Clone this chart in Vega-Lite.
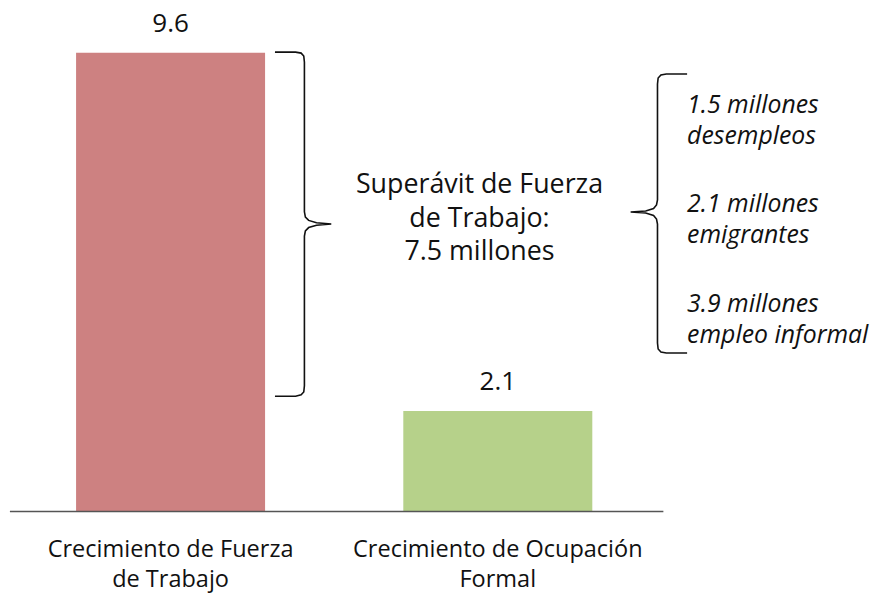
{
  "$schema": "https://vega.github.io/schema/vega-lite/v6.json",
  "width": 876,
  "height": 595,
  "autosize": {"type": "none"},
  "padding": 0,
  "background": "white",
  "config": {"view": {"stroke": null}, "font": "Open Sans"},
  "datasets": {
    "bars": [
      {"cat": "Fuerza", "pos": 1, "value": 9.6, "label": "Crecimiento de Fuerza\nde Trabajo"},
      {"cat": "Ocupacion", "pos": 2, "value": 2.1, "label": "Crecimiento de Ocupación\nFormal"}
    ],
    "braces": [
      {"b": "a", "i": 1, "u": 1.319, "v": 9.61},
      {"b": "a", "i": 2, "u": 1.382, "v": 9.61},
      {"b": "a", "i": 3, "u": 1.399, "v": 9.59},
      {"b": "a", "i": 4, "u": 1.407, "v": 9.53},
      {"b": "a", "i": 5, "u": 1.409, "v": 9.40},
      {"b": "a", "i": 6, "u": 1.409, "v": 6.27},
      {"b": "a", "i": 7, "u": 1.412, "v": 6.16},
      {"b": "a", "i": 8, "u": 1.422, "v": 6.09},
      {"b": "a", "i": 9, "u": 1.446, "v": 6.04},
      {"b": "a", "i": 10, "u": 1.491, "v": 6.015},
      {"b": "a", "i": 11, "u": 1.446, "v": 5.99},
      {"b": "a", "i": 12, "u": 1.422, "v": 5.94},
      {"b": "a", "i": 13, "u": 1.412, "v": 5.87},
      {"b": "a", "i": 14, "u": 1.409, "v": 5.76},
      {"b": "a", "i": 15, "u": 1.409, "v": 2.63},
      {"b": "a", "i": 16, "u": 1.407, "v": 2.50},
      {"b": "a", "i": 17, "u": 1.399, "v": 2.44},
      {"b": "a", "i": 18, "u": 1.382, "v": 2.41},
      {"b": "a", "i": 19, "u": 1.319, "v": 2.41},
      {"b": "b", "i": 1, "u": 2.5785, "v": 9.153},
      {"b": "b", "i": 2, "u": 2.515, "v": 9.153},
      {"b": "b", "i": 3, "u": 2.4985, "v": 9.132},
      {"b": "b", "i": 4, "u": 2.490, "v": 9.069},
      {"b": "b", "i": 5, "u": 2.488, "v": 8.943},
      {"b": "b", "i": 6, "u": 2.488, "v": 6.517},
      {"b": "b", "i": 7, "u": 2.485, "v": 6.412},
      {"b": "b", "i": 8, "u": 2.476, "v": 6.339},
      {"b": "b", "i": 9, "u": 2.452, "v": 6.287},
      {"b": "b", "i": 10, "u": 2.406, "v": 6.266},
      {"b": "b", "i": 11, "u": 2.452, "v": 6.245},
      {"b": "b", "i": 12, "u": 2.476, "v": 6.192},
      {"b": "b", "i": 13, "u": 2.485, "v": 6.119},
      {"b": "b", "i": 14, "u": 2.488, "v": 6.015},
      {"b": "b", "i": 15, "u": 2.488, "v": 3.525},
      {"b": "b", "i": 16, "u": 2.490, "v": 3.400},
      {"b": "b", "i": 17, "u": 2.4985, "v": 3.337},
      {"b": "b", "i": 18, "u": 2.515, "v": 3.316},
      {"b": "b", "i": 19, "u": 2.5785, "v": 3.316}
    ],
    "notes": [
      {"t": "1.5 millones\ndesempleos", "v": 8.337},
      {"t": "2.1 millones\nemigrantes", "v": 6.266},
      {"t": "3.9 millones\nempleo informal", "v": 4.174}
    ]
  },
  "layer": [
    {
      "data": {"name": "bars"},
      "mark": {"type": "bar", "size": 189},
      "encoding": {
        "x": {"field": "pos", "type": "quantitative", "scale": {"domain": [0.494, 3.1405], "nice": false, "zero": false}, "axis": null},
        "y": {"field": "value", "type": "quantitative", "scale": {"domain": [-1.747, 10.701], "nice": false, "zero": false}, "axis": null},
        "color": {"field": "cat", "type": "nominal", "scale": {"domain": ["Fuerza", "Ocupacion"], "range": ["#CD8181", "#B6D18A"]}, "legend": null}
      }
    },
    {
      "data": {"name": "bars"},
      "mark": {"type": "text", "baseline": "alphabetic", "align": "center", "dy": -21, "fontSize": 26, "color": "#111"},
      "encoding": {
        "x": {"field": "pos", "type": "quantitative"},
        "y": {"field": "value", "type": "quantitative"},
        "text": {"field": "value", "type": "quantitative", "format": ".1f"}
      }
    },
    {
      "data": {"name": "bars"},
      "mark": {"type": "text", "baseline": "alphabetic", "align": "center", "fontSize": 23.5, "lineBreak": "\n", "lineHeight": 30, "color": "#111"},
      "encoding": {
        "x": {"field": "pos", "type": "quantitative"},
        "y": {"datum": -0.952},
        "text": {"field": "label", "type": "nominal"}
      }
    },
    {
      "data": {"values": [{}]},
      "mark": {"type": "rule", "color": "#555555", "strokeWidth": 1.5},
      "encoding": {
        "x": {"datum": 0.509},
        "x2": {"datum": 2.506},
        "y": {"datum": 0}
      }
    },
    {
      "data": {"name": "braces"},
      "mark": {"type": "line", "color": "#111", "strokeWidth": 1.6, "interpolate": "linear"},
      "encoding": {
        "x": {"field": "u", "type": "quantitative"},
        "y": {"field": "v", "type": "quantitative"},
        "detail": {"field": "b", "type": "nominal"},
        "order": {"field": "i", "type": "quantitative"}
      }
    },
    {
      "data": {"values": [{"t": "Superávit de Fuerza\nde Trabajo:\n7.5 millones"}]},
      "mark": {"type": "text", "baseline": "alphabetic", "align": "center", "fontSize": 26.8, "lineBreak": "\n", "lineHeight": 33.5, "color": "#111"},
      "encoding": {
        "x": {"datum": 1.944},
        "y": {"datum": 6.663},
        "text": {"field": "t", "type": "nominal"}
      }
    },
    {
      "data": {"name": "notes"},
      "mark": {"type": "text", "baseline": "alphabetic", "align": "left", "fontSize": 24.8, "fontStyle": "italic", "lineBreak": "\n", "lineHeight": 31, "color": "#111"},
      "encoding": {
        "x": {"datum": 2.5785},
        "y": {"field": "v", "type": "quantitative"},
        "text": {"field": "t", "type": "nominal"}
      }
    }
  ]
}
